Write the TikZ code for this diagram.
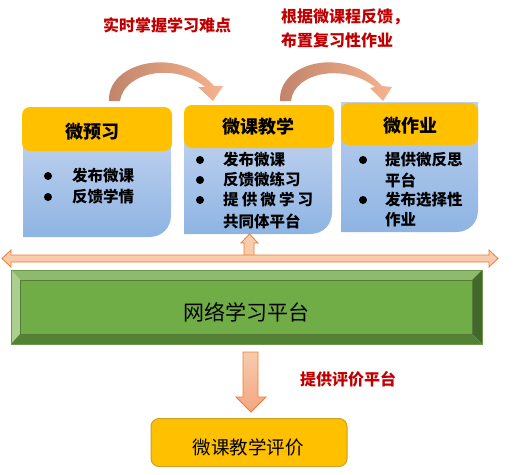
\documentclass[tikz,border=0pt]{standalone}
\usepackage{fontspec}
\setmainfont{Noto Sans CJK SC}
\definecolor{hdrorange}{HTML}{FFC000}
\definecolor{bodytop}{HTML}{BCD0EE}
\definecolor{bodybot}{HTML}{8EB4E3}
\definecolor{redtxt}{HTML}{C00000}
\definecolor{arrfill}{HTML}{F8CBAD}
\definecolor{arrdark}{HTML}{F4A582}
\definecolor{arredge}{HTML}{ED7D31}
\definecolor{curvdark}{HTML}{C0846A}
\definecolor{curvlight}{HTML}{F6B38F}
\definecolor{gface}{HTML}{70AD47}
\definecolor{gtop}{HTML}{8DBB6B}
\definecolor{gleft}{HTML}{A9D08E}
\definecolor{gright}{HTML}{43682B}
\definecolor{gbot}{HTML}{548235}
\definecolor{gedge}{HTML}{6A9A48}
\definecolor{evaledge}{HTML}{C9A227}
\begin{document}
\begin{tikzpicture}[x=1pt,y=-1pt,
  hdr/.style={draw=none,fill=hdrorange,rounded corners=8pt,inner sep=0pt},
  hdrtxt/.style={inner sep=0pt,font=\bfseries\fontsize{18}{18}\selectfont},
  bul/.style={anchor=west,inner sep=0pt,font=\bfseries\fontsize{15.5}{15.5}\selectfont},
  dotmark/.style={circle,fill=black,inner sep=0pt,minimum size=8pt},
  redlbl/.style={anchor=west,inner sep=0pt,text=redtxt,font=\bfseries\fontsize{16}{16}\selectfont},
  body/.style={top color=bodytop,bottom color=bodybot},
  blockarr/.style={draw=arredge,line width=0.8pt,fill=arrfill},
  curvarr/.style={left color=curvdark,right color=curvlight}]
\useasboundingbox (0,0) rectangle (516,474);

% red labels
\node[redlbl] (l1) at (103,25) {实时掌握学习难点};
\node[redlbl] (l2) at (281,17) {根据微课程反馈，};
\node[redlbl] (l3) at (281,40) {布置复习性作业};

% curved arrows
\shade[curvarr] (109,101) .. controls (107,62) and (178,45) .. (214,86) -- (223,86)
  -- (213,101) -- (198,87) -- (205,87) .. controls (175,62) and (124,72) .. (120,101) -- cycle;
\shade[curvarr] (280,101) .. controls (278,62) and (345,45) .. (382,86) -- (392,87)
  -- (383,101) -- (370,88) -- (375,87) .. controls (345,63) and (294,72) .. (291,101) -- cycle;

% boxes: bodies
\shade[body] (23,140) -- (171,140) -- (171,215) .. controls (171,228) and (162,237) .. (149,237) -- (23,237) -- cycle;
\shade[body] (184,138) -- (332,138) -- (332,212) .. controls (332,225) and (323,234) .. (310,234) -- (184,234) -- cycle;
\shade[body] (341,102) -- (478,102) -- (478,210) .. controls (478,223) and (469,232) .. (456,232) -- (341,232) -- cycle;

% headers
\node[hdr,minimum width=150pt,minimum height=44pt] (h1) at (97,129) {};
\node[hdr,minimum width=150pt,minimum height=43pt] (h2) at (259,126.5) {};
\node[hdr,minimum width=137pt,minimum height=42pt] (h3) at (409.5,124) {};
\node[hdrtxt] (t1) at (92,132) {微预习};
\node[hdrtxt] (t2) at (258,127) {微课教学};
\node[hdrtxt] (t3) at (410,126) {微作业};

% bullets box 1
\node[dotmark] (d11) at (48,176) {};
\node[dotmark] (d12) at (48,197) {};
\node[bul] (b11) at (72,176) {发布微课};
\node[bul] (b12) at (72,197) {反馈学情};
% bullets box 2
\node[dotmark] (d21) at (200,160) {};
\node[dotmark] (d22) at (200,180) {};
\node[dotmark] (d23) at (200,200) {};
\node[bul] (b21) at (223,160) {发布微课};
\node[bul] (b22) at (223,180) {反馈微练习};
\node[bul] (b23) at (223,200) {\makebox[90pt][s]{提\hfill 供\hfill 微\hfill 学\hfill 习}};
\node[bul] (b24) at (223,221) {共同体平台};
% bullets box 3
\node[dotmark] (d31) at (363,160) {};
\node[dotmark] (d32) at (363,200) {};
\node[bul] (b31) at (385,160) {提供微反思};
\node[bul] (b32) at (385,180) {平台};
\node[bul] (b33) at (385,200) {发布选择性};
\node[bul] (b34) at (385,220) {作业};

% small up arrow
\draw[blockarr] (244,256) -- (244,243) -- (241,243) -- (249.5,234) -- (258,243) -- (254,243) -- (254,256);

% double arrow
\draw[blockarr] (2,258.5) -- (11,250) -- (11,255) -- (489,255) -- (489,250) -- (498,258.5)
  -- (489,267) -- (489,262) -- (11,262) -- (11,267) -- cycle;

% green bevel bar
\fill[gtop] (11,270) -- (482,270) -- (472,280) -- (20,280) -- cycle;
\fill[gleft] (11,270) -- (20,280) -- (20,334) -- (11,344) -- cycle;
\fill[gright] (482,270) -- (482,344) -- (472,334) -- (472,280) -- cycle;
\fill[gbot] (11,344) -- (482,344) -- (472,334) -- (20,334) -- cycle;
\fill[gface] (20,280) rectangle (472,334);
\draw[gedge,line width=0.8pt] (11,270) rectangle (482,344);
\draw[gedge!80!black,line width=0.5pt] (20,280) rectangle (472,334);
\node[inner sep=0pt,font=\fontsize{21}{21}\selectfont] (plat) at (246.5,312) {网络学习平台};

% down arrow
\shade[top color=arrfill,bottom color=arrdark,draw=arredge,line width=0.8pt]
  (243,352) -- (258,352) -- (258,397) -- (266,397) -- (251,412) -- (236,397) -- (243,397) -- cycle;
\node[redlbl] (l4) at (300,379) {提供评价平台};

% evaluation box
\node[draw=evaledge,line width=1pt,fill=hdrorange,rounded corners=8pt,minimum width=196pt,minimum height=48pt,inner sep=0pt] (eval) at (249,442.5) {};
\node[inner sep=0pt,font=\fontsize{18.5}{18.5}\selectfont] (evaltxt) at (248,447) {微课教学评价};
\end{tikzpicture}
\end{document}
